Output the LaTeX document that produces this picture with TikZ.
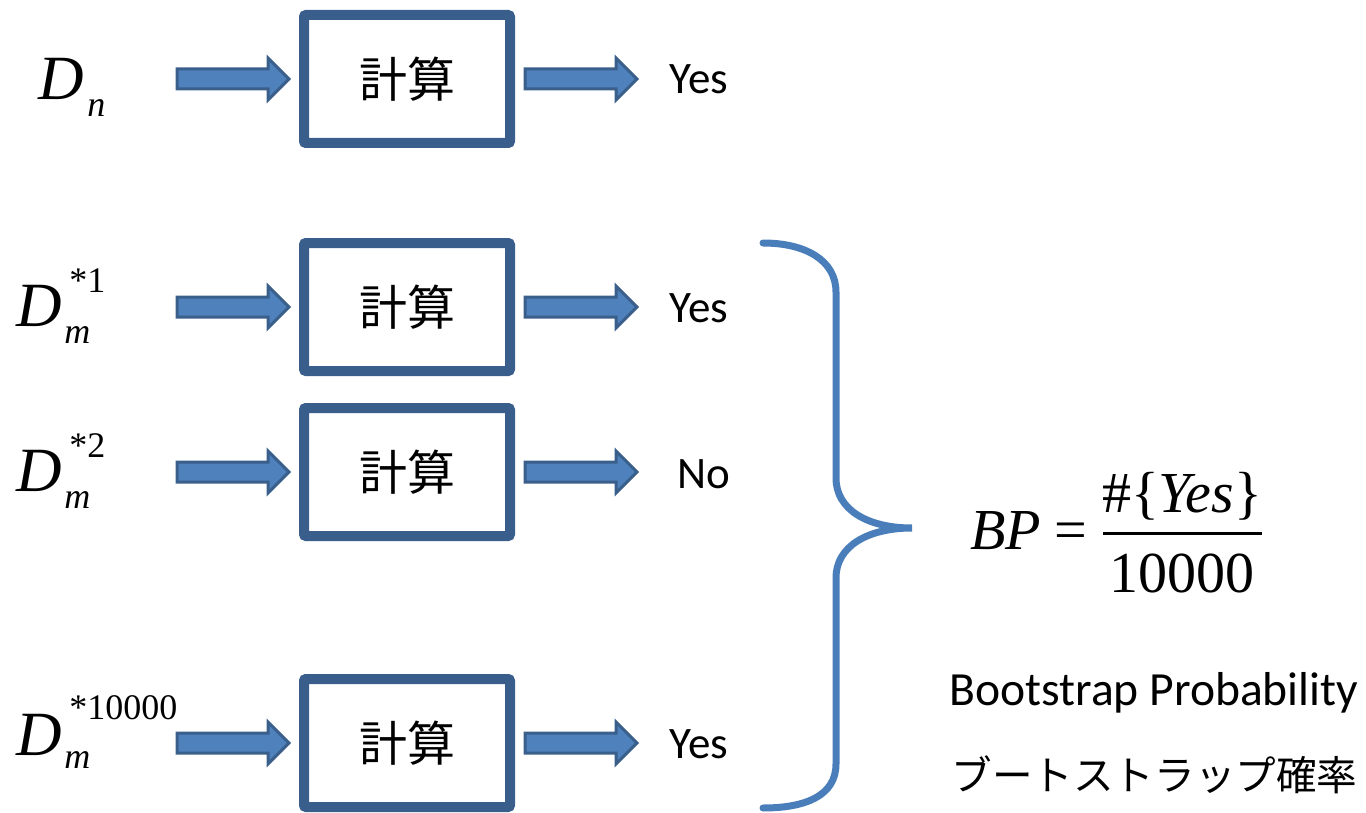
\documentclass[tikz,border=0pt]{standalone}
\usepackage{fontspec}
\setmainfont{Carlito}
\newfontfamily\tms{Liberation Serif}
\newfontfamily\jp{Noto Sans CJK JP}
\usetikzlibrary{calc}
\definecolor{boxblue}{HTML}{3A5E8C}
\definecolor{arrfill}{HTML}{4F81BD}
\definecolor{arredge}{HTML}{3A5F8B}
\definecolor{bracec}{HTML}{4A7EBB}
\newcommand{\fatarrow}[2]{%
  \draw[fatarr] let \p1=(#1), \p2=(#2) in
    (\x1,\y1+5pt) -- (\x2-10.5pt,\y1+5pt) -- (\x2-10.5pt,\y1+10.5pt) -- (\x2,\y1)
    -- (\x2-10.5pt,\y1-10.5pt) -- (\x2-10.5pt,\y1-5pt) -- (\x1,\y1-5pt) -- cycle;}
\begin{document}
\begin{tikzpicture}[x=0.5pt,y=-0.5pt,
  calcbox/.style={draw=boxblue, line width=5pt, minimum width=103pt, minimum height=64pt,
    inner sep=0pt, rounded corners=1pt, font=\jp\fontsize{24pt}{24pt}\selectfont},
  ans/.style={anchor=base west, inner sep=0pt, font=\fontsize{22.5pt}{22.5pt}\selectfont},
  bigD/.style={anchor=base west, inner sep=0pt, font=\tms\itshape\fontsize{31.5pt}{31.5pt}\selectfont},
  subidx/.style={anchor=base west, inner sep=0pt, font=\tms\itshape\fontsize{18pt}{18pt}\selectfont},
  supidx/.style={anchor=base west, inner sep=0pt, font=\tms\fontsize{18pt}{18pt}\selectfont},
  fatarr/.style={fill=arrfill, draw=arredge, line width=1.5pt, line join=miter},
  fmit/.style={inner sep=0pt, font=\tms\itshape\fontsize{29pt}{29pt}\selectfont},
  fmrm/.style={inner sep=0pt, font=\tms\fontsize{29pt}{29pt}\selectfont},
  plain/.style={anchor=base west, inner sep=0pt}]
\path[use as bounding box] (0,0) rectangle (1366,813);

% boxes
\node[calcbox] (b1) at (407,79) {計算};
\node[calcbox] (b2) at (407,307) {計算};
\node[calcbox] (b3) at (407,472) {計算};
\node[calcbox] (b4) at (407,743) {計算};

% arrows
\foreach \i in {1,2,3,4}{
  \coordinate (in\i) at ($(b\i.west)+(-122,0)$);
  \coordinate (tin\i) at ($(b\i.west)+(-10,0)$);
  \coordinate (out\i) at ($(b\i.east)+(10,0)$);
  \coordinate (tout\i) at ($(b\i.east)+(122,0)$);
  \fatarrow{in\i}{tin\i}
  \fatarrow{out\i}{tout\i}
}

% answers
\node[ans] (y1) at (669,94) {Yes};
\node[ans] (y2) at (669,322) {Yes};
\node[ans] (n3) at (677,488) {No};
\node[ans] (y4) at (669,758) {Yes};

% labels
\node[bigD] (d1) at (38,100) {D};
\node[subidx] (d1s) at (87,117) {n};

\node[bigD] (d2) at (16,326) {D};
\node[subidx] (d2s) at (64,343) {m};
\node[supidx] (d2p) at (69,292) {*1};

\node[bigD] (d3) at (16,491) {D};
\node[subidx] (d3s) at (64,508) {m};
\node[supidx] (d3p) at (69,457) {*2};

\node[bigD] (d4) at (16,755) {D};
\node[subidx] (d4s) at (64,768) {m};
\node[supidx] (d4p) at (69,719) {*10000};

% brace
\draw[bracec, line width=3.5pt, line cap=round]
  (763,243) .. controls (805,243) and (836,260) .. (836,292)
  -- (836,478) .. controls (836,510) and (868,528) .. (912,528)
  .. controls (868,528) and (836,546) .. (836,578)
  -- (836,764) .. controls (836,796) and (805,808) .. (763,808);

% formula
\node[fmit, anchor=base west] (bp) at (970,549) {BP};
\node[fmrm, anchor=base west] (eq) at (1054,549) {=};
\node[fmrm, anchor=base] (num) at (1182,512) {\#\{\itshape Yes\upshape\}};
\node[fmrm, anchor=base] (den) at (1182,592) {10000};
\coordinate (barL) at (1103,533);
\coordinate (barR) at (1262,533);
\draw[line width=1.5pt] (barL) -- (barR);

% captions
\node[plain, font=\fontsize{23.8pt}{23.8pt}\selectfont] (bsen) at (949,705) {Bootstrap Probability};
\node[plain, font=\jp\fontsize{20.3pt}{20.3pt}\selectfont] (bsjp) at (951,790) {ブートストラップ確率};
\end{tikzpicture}
\end{document}
